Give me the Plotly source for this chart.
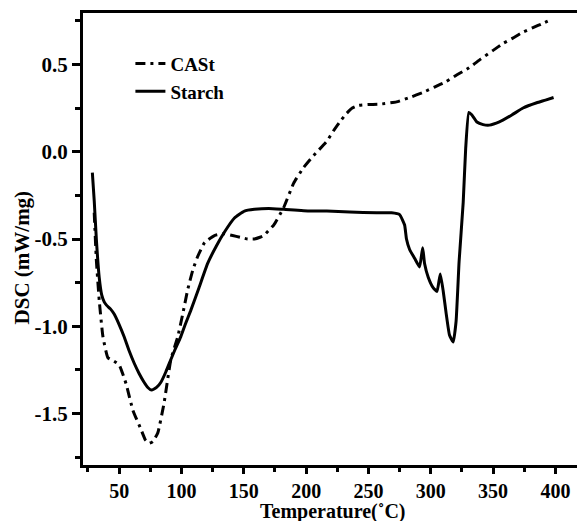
import plotly.graph_objects as go

# Starch (solid)
starch_T = [28.5, 30, 31.7, 34, 36, 38, 40, 43, 46, 50, 54, 58, 62, 66, 70, 73, 76, 80, 83.5, 87.5,
            91.5, 95, 99.4, 103, 107.4, 114, 121, 128, 134.5, 142.5, 150.5, 158.5, 170, 182, 203,
            216.6, 235, 256.5, 268.5, 275, 279, 280.5, 283, 287, 291, 293.5, 295, 298, 302, 305,
            307.6, 310, 312.4, 315, 318, 320.3, 322.7, 326, 328, 330.5, 333, 337, 342, 347, 355,
            365, 374, 385, 392, 398.5]
starch_v = [-0.12, -0.28, -0.50, -0.72, -0.82, -0.86, -0.88, -0.90, -0.93, -0.99, -1.06, -1.14,
            -1.21, -1.27, -1.32, -1.35, -1.365, -1.35, -1.32, -1.26, -1.19, -1.13, -1.06, -0.99,
            -0.91, -0.78, -0.64, -0.54, -0.46, -0.38, -0.34, -0.33, -0.325, -0.33, -0.34, -0.34,
            -0.345, -0.35, -0.35, -0.36, -0.42, -0.50, -0.56, -0.61, -0.66, -0.55, -0.64, -0.72,
            -0.78, -0.80, -0.70, -0.80, -0.93, -1.05, -1.09, -0.97, -0.63, -0.29, 0.02, 0.225,
            0.21, 0.17, 0.155, 0.152, 0.17, 0.21, 0.25, 0.28, 0.295, 0.31]

# CASt (dash-dot)
cast_T = [30, 31.7, 34, 37, 41, 46, 50, 55.6, 61, 67.5, 71, 74, 77, 81, 86, 91.5, 97, 101, 105,
          109, 113, 118.6, 126.5, 134.5, 141, 147, 153, 158.5, 163, 166, 170, 174, 182, 190, 198,
          205, 216.6, 222, 228, 232.6, 237, 242, 250, 259, 272.5, 283, 294, 303, 312, 321, 330.7,
          340, 350, 358, 365.8, 374, 382, 390, 397.7]
cast_v = [-0.35, -0.62, -0.85, -1.06, -1.18, -1.20, -1.22, -1.33, -1.48, -1.59, -1.65, -1.67,
          -1.66, -1.61, -1.44, -1.19, -1.06, -0.93, -0.79, -0.68, -0.60, -0.52, -0.48, -0.47,
          -0.48, -0.49, -0.50, -0.50, -0.49, -0.48, -0.45, -0.42, -0.32, -0.18, -0.09, -0.03,
          0.06, 0.12, 0.18, 0.22, 0.25, 0.265, 0.27, 0.272, 0.285, 0.31, 0.34, 0.37, 0.40, 0.44,
          0.48, 0.53, 0.58, 0.62, 0.65, 0.685, 0.71, 0.735, 0.76]

x_ticks = [50, 100, 150, 200, 250, 300, 350, 400]
y_ticks = [-1.5, -1.0, -0.5, 0.0, 0.5]
y_ticktext = ["-1.5", "-1.0", "-0.5", "0.0", "0.5"]

FONT = "Liberation Serif"

fig = go.Figure()
fig.add_trace(go.Scatter(x=cast_T, y=cast_v, mode="lines", name="<b>CASt</b>",
                         line=dict(color="black", width=3, dash="10px,5px,3px,5px",
                                   shape="spline", smoothing=0.4)))
fig.add_trace(go.Scatter(x=starch_T, y=starch_v, mode="lines", name="<b>Starch</b>",
                         line=dict(color="black", width=3, shape="spline", smoothing=0.4)))

axis_common = dict(showline=True, linecolor="black", linewidth=3, mirror=True,
                   showgrid=False, zeroline=False, ticks="outside",
                   tickwidth=2.5, tickcolor="black")

fig.update_xaxes(range=[21, 421.3], tickvals=x_ticks, ticklen=6,
                 ticktext=[f"<b>{t}</b>" for t in x_ticks],
                 tickfont=dict(family=FONT, size=20, color="black"),
                 minor=dict(ticks="outside", ticklen=4, tickwidth=2.5, tickcolor="black",
                            dtick=25, tick0=0),
                 **axis_common)
fig.update_yaxes(range=[-1.794, 0.794], tickvals=y_ticks, ticklen=8,
                 ticktext=[f"<b>{t}</b>" for t in y_ticktext],
                 tickfont=dict(family=FONT, size=21, color="black"),
                 minor=dict(ticks="outside", ticklen=5, tickwidth=2.5, tickcolor="black",
                            dtick=0.25, tick0=0),
                 **axis_common)

fig.update_layout(
    width=577, height=513,
    margin=dict(l=75, r=0, t=5, b=56),
    plot_bgcolor="white", paper_bgcolor="white",
    showlegend=True,
    legend=dict(x=0.095, y=0.93, xanchor="left", yanchor="top",
                bgcolor="rgba(0,0,0,0)", font=dict(family=FONT, size=19, color="black"),
                tracegroupgap=0),
    annotations=[
        dict(text="<b>Temperature(˚C)</b>", xref="paper", yref="paper", x=0.5, y=-0.102,
             xanchor="center", yanchor="middle", showarrow=False,
             font=dict(family=FONT, size=20, color="black")),
        dict(text="<b>DSC (mW/mg)</b>", xref="paper", yref="paper", x=-0.1215, y=0.46,
             xanchor="center", yanchor="middle", showarrow=False, textangle=-90,
             font=dict(family=FONT, size=21, color="black")),
    ],
)

fig.write_html("out.html")
